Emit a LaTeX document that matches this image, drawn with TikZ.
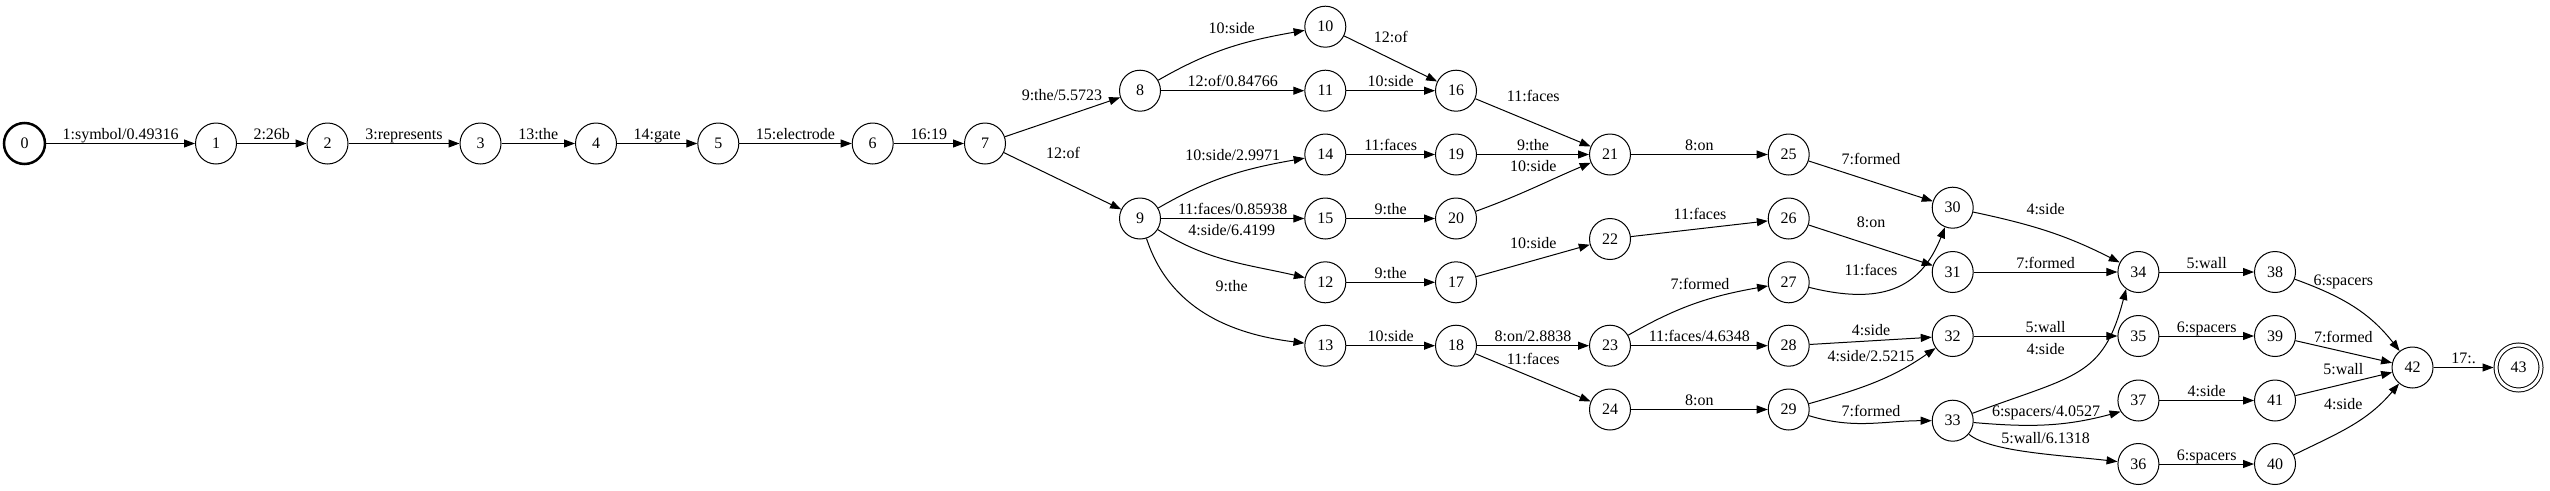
\documentclass[tikz,border=0pt]{standalone}
\usepackage{fontspec}
\setmainfont{Liberation Serif}
\usetikzlibrary{arrows.meta}

\begin{document}
\begin{tikzpicture}[x=1pt, y=1pt,
	st/.style={circle, draw, line width=1pt, minimum size=41pt, inner sep=0pt, font=\fontsize{16}{19}\selectfont},
	tr/.style={line width=1pt, -{Triangle[length=11pt, width=8pt]}},
	lbl/.style={anchor=base, inner sep=0pt, font=\fontsize{16}{19}\selectfont},
	hlbl/.style={lbl, midway, yshift=4pt}]
	\useasboundingbox (0,0) rectangle (2550,-490);

	% states
	\node[st, line width=2.5pt] (s0) at (24.5,-143.5) {0};
	\node[st] (s1) at (216,-143.5) {1};
	\node[st] (s2) at (327.5,-143.5) {2};
	\node[st] (s3) at (480.5,-143.5) {3};
	\node[st] (s4) at (596,-143.5) {4};
	\node[st] (s5) at (718.3,-143.5) {5};
	\node[st] (s6) at (872.7,-143.5) {6};
	\node[st] (s7) at (985,-143.5) {7};
	\node[st] (s8) at (1140,-90.7) {8};
	\node[st] (s9) at (1140,-218.5) {9};
	\node[st] (s10) at (1325.3,-26.7) {10};
	\node[st] (s11) at (1325.3,-90.7) {11};
	\node[st] (s14) at (1325.3,-154.5) {14};
	\node[st] (s15) at (1325.3,-218.5) {15};
	\node[st] (s12) at (1325.3,-282.3) {12};
	\node[st] (s13) at (1325.3,-345.7) {13};
	\node[st] (s16) at (1456,-90.7) {16};
	\node[st] (s19) at (1456,-154.5) {19};
	\node[st] (s20) at (1456,-218.5) {20};
	\node[st] (s17) at (1456,-282.3) {17};
	\node[st] (s18) at (1456,-345.7) {18};
	\node[st] (s21) at (1610,-154.5) {21};
	\node[st] (s22) at (1610,-239) {22};
	\node[st] (s23) at (1610,-345.7) {23};
	\node[st] (s24) at (1610,-409.5) {24};
	\node[st] (s25) at (1788.7,-154.5) {25};
	\node[st] (s26) at (1788.7,-218.5) {26};
	\node[st] (s27) at (1788.7,-282.3) {27};
	\node[st] (s28) at (1788.7,-345.7) {28};
	\node[st] (s29) at (1788.7,-409.5) {29};
	\node[st] (s30) at (1952.7,-207.7) {30};
	\node[st] (s31) at (1952.7,-272) {31};
	\node[st] (s32) at (1952.7,-336) {32};
	\node[st] (s33) at (1952.7,-420.7) {33};
	\node[st] (s34) at (2138.4,-272) {34};
	\node[st] (s35) at (2138.4,-336) {35};
	\node[st] (s37) at (2138.4,-400.5) {37};
	\node[st] (s36) at (2138.4,-464) {36};
	\node[st] (s38) at (2275,-272) {38};
	\node[st] (s39) at (2275,-336) {39};
	\node[st] (s41) at (2275,-400.5) {41};
	\node[st] (s40) at (2275,-464) {40};
	\node[st] (s42) at (2412.5,-367.5) {42};
	\node[st, double, double distance=3pt, minimum size=45pt, outer sep=2.5pt] (s43) at (2518.5,-367.5) {43};

	% main chain
	\draw[tr] (s0) -- (s1) node[hlbl] {1:symbol/0.49316};
	\draw[tr] (s1) -- (s2) node[hlbl] {2:26b};
	\draw[tr] (s2) -- (s3) node[hlbl] {3:represents};
	\draw[tr] (s3) -- (s4) node[hlbl] {13:the};
	\draw[tr] (s4) -- (s5) node[hlbl] {14:gate};
	\draw[tr] (s5) -- (s6) node[hlbl] {15:electrode};
	\draw[tr] (s6) -- (s7) node[hlbl] {16:19};
	\draw[tr] (s7) -- (s8) node[lbl] at (1062,-100) {9:the/5.5723};
	\draw[tr] (s7) -- (s9) node[lbl] at (1063,-158) {12:of};

	% from 8 and 9
	\draw[tr] (s8) to[out=30, in=190] (s10) node[lbl] at (1231.7,-33.5) {10:side};
	\draw[tr] (s8) -- (s11) node[hlbl] {12:of/0.84766};
	\draw[tr] (s9) to[out=30, in=190] (s14) node[lbl] at (1232.7,-160) {10:side/2.9971};
	\draw[tr] (s9) -- (s15) node[hlbl] {11:faces/0.85938};
	\draw[tr] (s9) to[out=-32, in=167] (s12) node[lbl] at (1231.7,-235.5) {4:side/6.4199};
	\draw[tr] (s9) to[out=-72, in=173] (s13) node[lbl] at (1231.7,-291) {9:the};

	\draw[tr] (s10) -- (s16) node[lbl] at (1390.7,-42.3) {12:of};
	\draw[tr] (s11) -- (s16) node[hlbl] {10:side};
	\draw[tr] (s14) -- (s19) node[hlbl] {11:faces};
	\draw[tr] (s15) -- (s20) node[hlbl] {9:the};
	\draw[tr] (s12) -- (s17) node[hlbl] {9:the};
	\draw[tr] (s13) -- (s18) node[hlbl] {10:side};

	% into 21 to 24
	\draw[tr] (s16) -- (s21) node[lbl] at (1533.3,-101) {11:faces};
	\draw[tr] (s19) -- (s21) node[hlbl] {9:the};
	\draw[tr] (s20) to[out=20, in=203] (s21) node[lbl] at (1533.3,-171.5) {10:side};
	\draw[tr] (s17) -- (s22) node[lbl] at (1533.3,-248) {10:side};
	\draw[tr] (s18) -- (s23) node[hlbl] {8:on/2.8838};
	\draw[tr] (s18) -- (s24) node[lbl] at (1533.3,-364.3) {11:faces};

	% into 25 to 29
	\draw[tr] (s21) -- (s25) node[hlbl] {8:on};
	\draw[tr] (s22) -- (s26) node[lbl] at (1700,-219) {11:faces};
	\draw[tr] (s23) to[out=30, in=190] (s27) node[lbl] at (1700,-289) {7:formed};
	\draw[tr] (s23) -- (s28) node[hlbl] {11:faces/4.6348};
	\draw[tr] (s24) -- (s29) node[hlbl] {8:on};

	% into 30 to 33
	\draw[tr] (s25) -- (s30) node[lbl] at (1871,-164) {7:formed};
	\draw[tr] (s26) -- (s31) node[lbl] at (1871,-227.7) {8:on};
	\draw[tr] (s27) .. controls (1880,-305) and (1920,-290) .. (s30) node[lbl] at (1871,-275.7) {11:faces};
	\draw[tr] (s28) -- (s32) node[lbl] at (1871,-335) {4:side};
	\draw[tr] (s29) to[out=16, in=215] (s32) node[lbl] at (1871,-361) {4:side/2.5215};
	\draw[tr] (s29) to[out=-17, in=180] (s33) node[lbl] at (1871,-416.7) {7:formed};

	% into 34 to 37
	\draw[tr] (s30) to[out=-12, in=153] (s34) node[lbl] at (2045.6,-214.3) {4:side};
	\draw[tr] (s31) -- (s34) node[hlbl] {7:formed};
	\draw[tr] (s32) -- (s35) node[hlbl] {5:wall};
	\draw[tr] (s33) .. controls (2075,-375) and (2103,-378) .. (s34.234) node[lbl] at (2045.6,-354.3) {4:side};
	\draw[tr] (s33) to[out=-5, in=195] (s37.212) node[lbl] at (2046,-416.7) {6:spacers/4.0527};
	\draw[tr] (s33) .. controls (1990,-452) and (2060,-455) .. (s36) node[lbl] at (2045.6,-443.5) {5:wall/6.1318};

	% last ranks
	\draw[tr] (s34) -- (s38) node[hlbl] {5:wall};
	\draw[tr] (s35) -- (s39) node[hlbl] {6:spacers};
	\draw[tr] (s37) -- (s41) node[hlbl] {4:side};
	\draw[tr] (s36) -- (s40) node[hlbl] {6:spacers};
	\draw[tr] (s38) to[out=-20, in=128] (s42) node[lbl] at (2343.3,-285.7) {6:spacers};
	\draw[tr] (s39) -- (s42) node[lbl] at (2343.3,-342) {7:formed};
	\draw[tr] (s41) -- (s42) node[lbl] at (2343.3,-374) {5:wall};
	\draw[tr] (s40) to[out=26, in=230] (s42) node[lbl] at (2343.3,-409) {4:side};
	\draw[tr] (s42) -- (s43) node[hlbl] {17:.};
\end{tikzpicture}
\end{document}
